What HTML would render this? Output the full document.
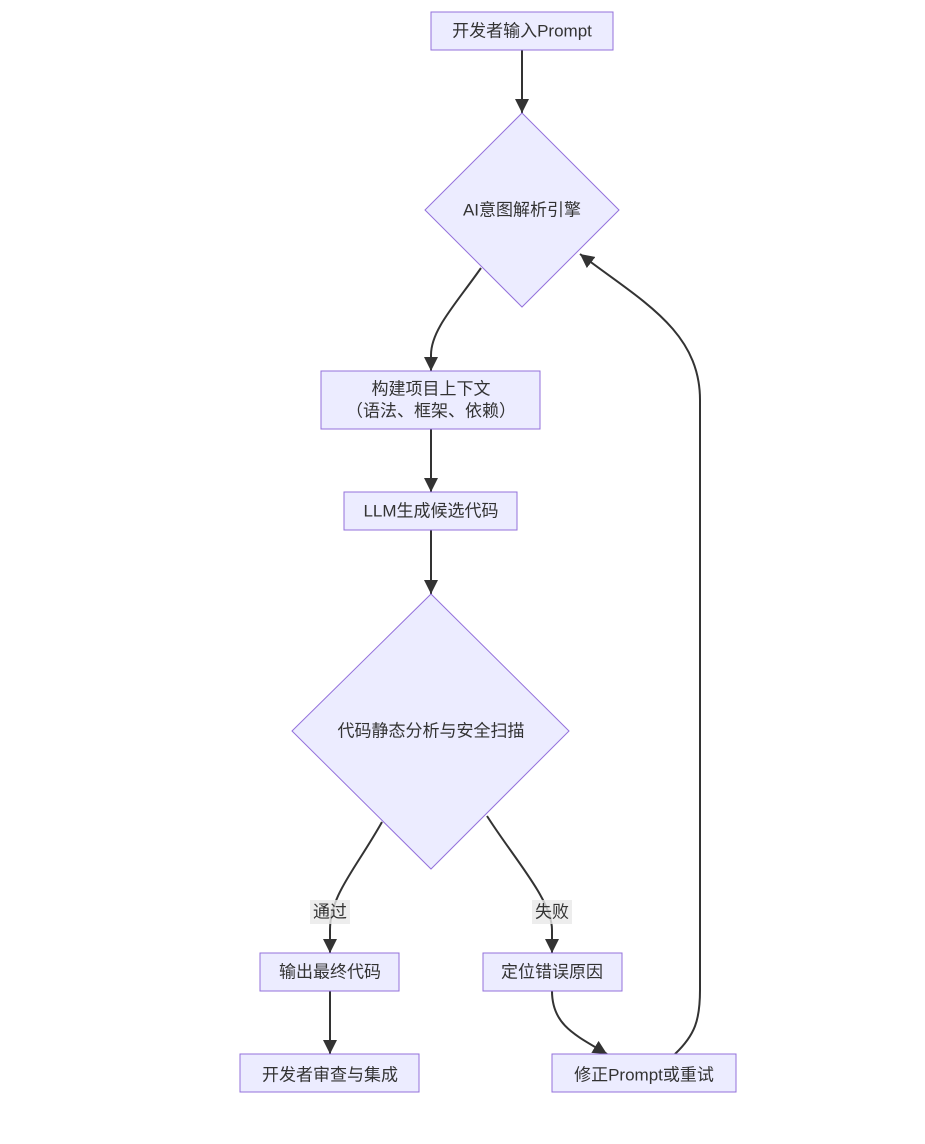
<!DOCTYPE html>
<html><head><meta charset="utf-8"><style>
html,body{margin:0;padding:0;background:#fff;}
svg text{font-family:"Liberation Sans","Noto Sans CJK SC",sans-serif;font-size:17px;fill:#333;}
</style></head><body>
<svg width="925" height="1139" viewBox="0 0 925 1139" xmlns="http://www.w3.org/2000/svg">
<defs><marker id="a" viewBox="0 0 10 10" refX="9" refY="5" markerWidth="7" markerHeight="7" markerUnits="userSpaceOnUse" orient="auto"><path d="M0,0L10,5L0,10z" fill="#333"/></marker>
<marker id="b" viewBox="0 0 10 10" refX="10" refY="5" markerWidth="14" markerHeight="14" markerUnits="userSpaceOnUse" orient="auto"><path d="M0,0L10,5L0,10z" fill="#333"/></marker></defs>
<g fill="none" stroke="#333" stroke-width="2" marker-end="url(#b)">
<path d="M522,50 L522,113"/>
<path d="M481,268 C455,305 431,330 431,355 L431,371"/>
<path d="M431,429 L431,492"/>
<path d="M431,530 L431,594"/>
<path d="M382,822 C355,870 330,895 330,930 L330,953"/>
<path d="M487,816 C515,860 552,900 552,930 L552,953"/>
<path d="M330,991 L330,1054"/>
<path d="M552,991 C552,1025 575,1035 607,1054"/>
<path d="M675,1054 C695,1035 700,1020 700,990 L700,400 C700,330 640,300 580,254"/>
</g>
<g fill="#ECECFF" stroke="#9370DB" stroke-width="1">
<rect x="431" y="12" width="182" height="38"/>
<polygon points="522,113 619,210 522,307 425,210"/>
<rect x="321" y="371" width="219" height="58"/>
<rect x="344" y="492" width="173" height="38"/>
<polygon points="431,594 569,731 431,869 292,731"/>
<rect x="260" y="953" width="139" height="38"/>
<rect x="483" y="953" width="139" height="38"/>
<rect x="240" y="1054" width="179" height="38"/>
<rect x="552" y="1054" width="184" height="38"/>
</g>
<rect x="310" y="900" width="40" height="24" fill="#e8e8e8" opacity="0.8"/>
<rect x="532" y="900" width="40" height="24" fill="#e8e8e8" opacity="0.8"/>
<g text-anchor="middle" dominant-baseline="central">
<text x="522" y="31">开发者输入Prompt</text>
<text x="522" y="210">AI意图解析引擎</text>
<text x="431" y="389">构建项目上下文</text>
<text x="431" y="411">（语法、框架、依赖）</text>
<text x="431" y="511">LLM生成候选代码</text>
<text x="431" y="731">代码静态分析与安全扫描</text>
<text x="330" y="912">通过</text>
<text x="552" y="912">失败</text>
<text x="330" y="972">输出最终代码</text>
<text x="552" y="972">定位错误原因</text>
<text x="330" y="1075">开发者审查与集成</text>
<text x="644" y="1075">修正Prompt或重试</text>
</g>
</svg>
</body></html>
